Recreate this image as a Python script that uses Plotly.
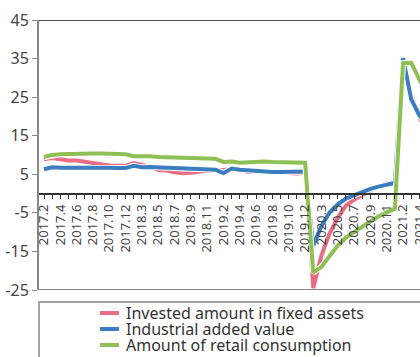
import plotly.graph_objects as go

# Monthly periods (Jan and Feb are reported together, so each year starts at .2)
periods = [f"{y}.{m}" for y in (2017, 2018, 2019, 2020) for m in range(2, 13)] + \
          ["2021.2", "2021.3", "2021.4", "2021.5"]

# Cumulative year-on-year growth, %
fixed_assets = [8.9, 9.2, 8.9, 8.6, 8.6, 8.3, 7.8, 7.5, 7.3, 7.2, 7.2,
                7.9, 7.5, 7.0, 6.1, 6.0, 5.5, 5.3, 5.4, 5.7, 5.9, 5.9,
                6.1, 6.3, 6.1, 5.6, 5.8, 5.7, 5.5, 5.4, 5.2, 5.2, 5.4,
                -24.5, -16.1, -10.3, -6.3, -3.1, -1.6, -0.3, 0.8, 1.8, 2.6, 2.9,
                35.0, 25.6, 19.9, 15.4]
industrial = [6.3, 6.8, 6.7, 6.7, 6.9, 6.8, 6.7, 6.7, 6.7, 6.6, 6.6,
              7.2, 6.8, 6.9, 6.9, 6.7, 6.6, 6.5, 6.4, 6.4, 6.3, 6.2,
              5.3, 6.5, 6.2, 6.0, 6.0, 5.8, 5.6, 5.6, 5.6, 5.6, 5.7,
              -13.5, -8.4, -4.9, -2.8, -1.3, -0.4, 0.4, 1.2, 1.8, 2.3, 2.8,
              35.1, 24.5, 20.3, 17.8]
retail = [9.5, 10.0, 10.2, 10.3, 10.4, 10.4, 10.4, 10.4, 10.3, 10.3, 10.2,
          9.7, 9.8, 9.7, 9.5, 9.4, 9.3, 9.3, 9.3, 9.2, 9.1, 9.0,
          8.2, 8.3, 8.0, 8.1, 8.4, 8.3, 8.2, 8.2, 8.1, 8.0, 8.0,
          -20.5, -19.0, -16.2, -13.5, -11.4, -9.9, -8.6, -7.2, -5.9, -4.8, -3.9,
          33.8, 33.9, 29.6, 25.7]

series_names = ["Invested amount in fixed assets", "Industrial added value",
                "Amount of retail consumption"]
series_values = [fixed_assets, industrial, retail]
series_colors = ["#E96D84", "#3A7EC0", "#8FBF55"]

y_ticks = [-25, -15, -5, 5, 15, 25, 35, 45]
y_ticktext = [str(v) for v in y_ticks]
x_ticktext = [p if i % 2 == 0 else "" for i, p in enumerate(periods)]

# Plot-area geometry in pixels
W, H = 420, 357
L, R, T, B = 39, 0, 20, 67
PW, PH = W - L - R, H - T - B


def px_x(px):
    return (px - L) / PW


def px_y(py):
    return (H - B - py) / PH


fig = go.Figure()
for name, vals, color in zip(series_names, series_values, series_colors):
    # thin white casing under each line
    fig.add_trace(go.Scatter(x=periods, y=vals, mode="lines",
                             line=dict(color="white", width=6),
                             showlegend=False, hoverinfo="skip"))
    fig.add_trace(go.Scatter(x=periods, y=vals, mode="lines", name=name,
                             line=dict(color=color, width=4), showlegend=False))

# Legend panel drawn below the plot
shapes = [
    dict(type="line", xref="paper", yref="y", x0=0, x1=1, y0=45, y1=45,
         line=dict(color="#111", width=1.5)),
    dict(type="line", xref="paper", yref="y", x0=0, x1=1, y0=-25, y1=-25,
         line=dict(color="#888", width=2)),
    dict(type="rect", xref="paper", yref="paper", x0=0, x1=1.2,
         y0=px_y(302), y1=px_y(420), line=dict(color="#888", width=1.5)),
]
annotations = []
row_y = [313, 329, 345]
for name, color, ry in zip(series_names, series_colors, row_y):
    shapes.append(dict(type="line", xref="paper", yref="paper",
                       x0=px_x(100), x1=px_x(119), y0=px_y(ry), y1=px_y(ry),
                       line=dict(color=color, width=4)))
    annotations.append(dict(xref="paper", yref="paper", x=px_x(124), y=px_y(ry),
                            xanchor="left", yanchor="middle", text=name,
                            showarrow=False, font=dict(size=16, color="#333")))

font = "Noto Sans, Open Sans, sans-serif"
fig.update_layout(
    width=W, height=H,
    margin=dict(l=L, r=R, t=T, b=B, autoexpand=False),
    paper_bgcolor="white", plot_bgcolor="white",
    font=dict(family=font, color="#333"),
    showlegend=False,
    xaxis=dict(type="category", range=[-0.613, 46.08],
               anchor="free", position=25 / 70, automargin=False,
               tickmode="array", tickvals=periods, ticktext=x_ticktext,
               tickangle=-90, tickfont=dict(size=13, color="#444"),
               ticks="outside", ticklen=5, tickcolor="#333", tickwidth=1,
               showline=True, linecolor="#333", linewidth=1.5,
               showgrid=False, zeroline=False),
    yaxis=dict(range=[-25, 45], tickmode="array", tickvals=y_ticks,
               ticktext=y_ticktext, automargin=False,
               tickfont=dict(size=16, color="#444"),
               ticks="outside", ticklen=5, tickcolor="#888", tickwidth=1,
               showline=True, linecolor="#888", linewidth=2,
               showgrid=False, zeroline=False),
    shapes=shapes,
    annotations=annotations,
)

fig.write_html("out.html")
